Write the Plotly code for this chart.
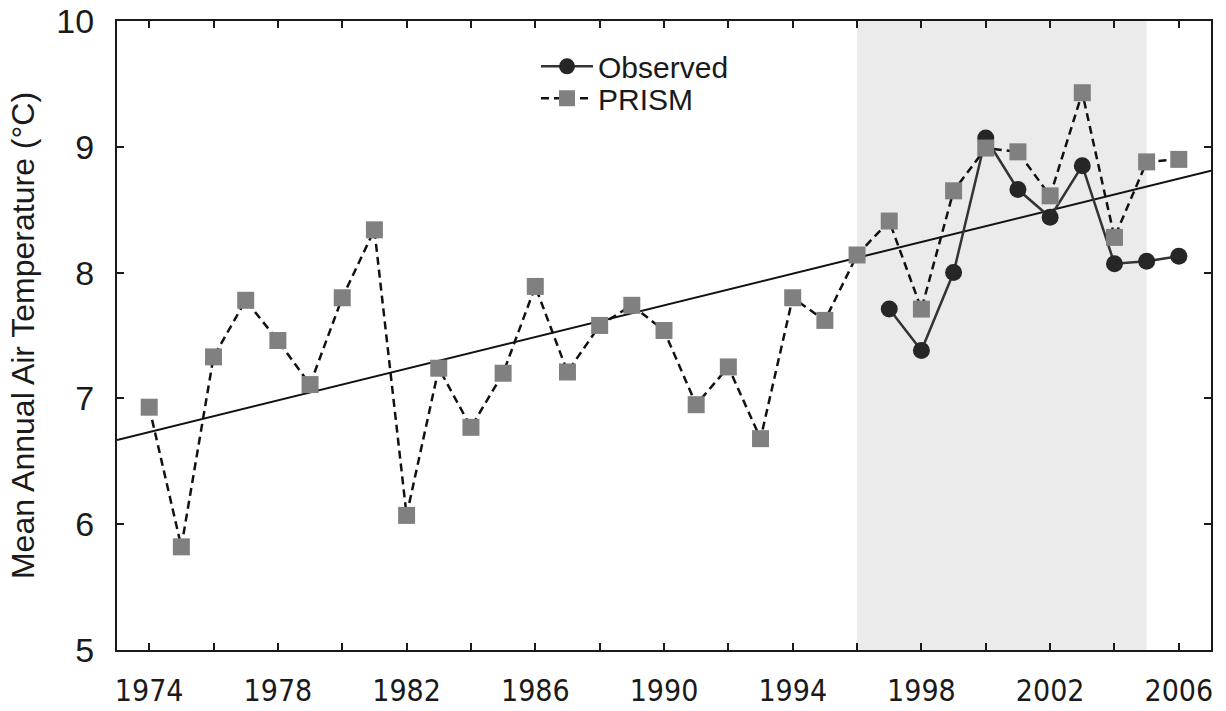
import plotly.graph_objects as go

# Annual series
prism_years = list(range(1974, 2007))
prism_temp = [6.93, 5.82, 7.33, 7.78, 7.46, 7.11, 7.80, 8.34, 6.07, 7.24,
              6.77, 7.20, 7.89, 7.21, 7.58, 7.74, 7.54, 6.95, 7.25, 6.68,
              7.80, 7.62, 8.14, 8.41, 7.71, 8.65, 8.99, 8.96, 8.61, 9.43,
              8.28, 8.88, 8.90]

obs_years = list(range(1997, 2007))
obs_temp = [7.71, 7.38, 8.00, 9.07, 8.66, 8.44, 8.85, 8.07, 8.09, 8.13]

# Linear trend end points
trend_years = [1973, 2007]
trend_temp = [6.67, 8.81]

# Highlighted period
shade_start, shade_end = 1996, 2005

x_tick_years = list(range(1974, 2007, 2))
x_tick_text = [str(y) if (y - 1974) % 4 == 0 else "" for y in x_tick_years]
y_ticks = [5, 6, 7, 8, 9, 10]

fig = go.Figure()

fig.add_shape(type="rect", xref="x", yref="y",
              x0=shade_start, x1=shade_end, y0=5, y1=10,
              fillcolor="#ebebeb", line=dict(width=0), layer="below")

fig.add_trace(go.Scatter(
    x=trend_years, y=trend_temp, mode="lines",
    line=dict(color="#111111", width=2), showlegend=False, hoverinfo="skip"))

fig.add_trace(go.Scatter(
    x=obs_years, y=obs_temp, mode="lines+markers", name="Observed",
    line=dict(color="#333333", width=2.5),
    marker=dict(symbol="circle", size=17, color="#262626"),
    legend="legend"))

fig.add_trace(go.Scatter(
    x=prism_years, y=prism_temp, mode="lines+markers", name="PRISM",
    line=dict(color="#111111", width=2.5, dash="8px,5px"),
    marker=dict(symbol="square", size=17, color="#808080"),
    legend="legend2"))

axis_font = "Liberation Sans, Arial, sans-serif"
legend_style = dict(xanchor="left", yanchor="middle", bgcolor="rgba(0,0,0,0)",
                    font=dict(size=30, family=axis_font, color="#1a1a1a"),
                    itemwidth=52)

fig.update_layout(
    width=1226, height=711,
    margin=dict(l=117, r=15, t=21, b=61),
    paper_bgcolor="white", plot_bgcolor="white",
    font=dict(family=axis_font, color="#1a1a1a"),
    legend=dict(x=0.383, y=0.928, **legend_style),
    legend2=dict(x=0.383, y=0.877, **legend_style),
    xaxis=dict(range=[1973, 2007], tickmode="array",
               tickvals=x_tick_years, ticktext=x_tick_text,
               ticks="inside", ticklen=7, tickwidth=1.5, tickcolor="#1a1a1a",
               showline=True, linecolor="#1a1a1a", linewidth=2,
               mirror="allticks", showgrid=False, zeroline=False,
               automargin=False, ticklabelstandoff=13,
               tickfont=dict(size=30, family="Liberation Sans Narrow, DejaVu Sans Condensed, Arial Narrow, sans-serif")),
    yaxis=dict(range=[5, 10], tickmode="array", tickvals=y_ticks,
               ticks="inside", ticklen=7, tickwidth=1.5, tickcolor="#1a1a1a",
               showline=True, linecolor="#1a1a1a", linewidth=2,
               mirror="allticks", showgrid=False, zeroline=False,
               automargin=False, ticklabelstandoff=14,
               tickfont=dict(size=34, family=axis_font),
               title=dict(text="Mean Annual Air Temperature (°C)",
                          font=dict(size=32, family=axis_font), standoff=12)),
)

fig.write_html("out.html")
